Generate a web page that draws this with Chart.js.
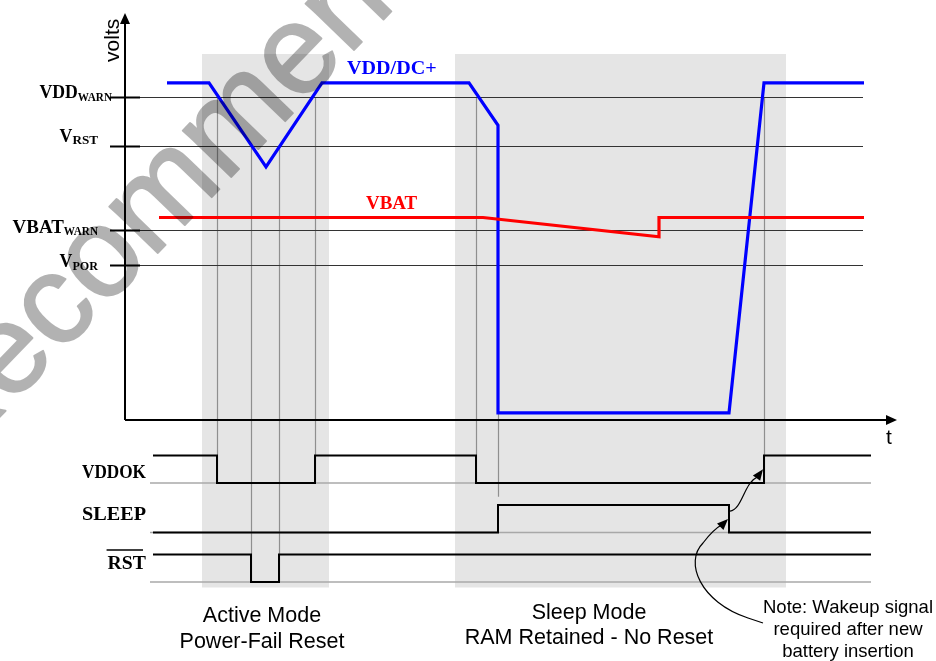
<!DOCTYPE html>
<html><head><meta charset="utf-8">
<script src="https://cdn.jsdelivr.net/npm/chart.js@4.4.1/dist/chart.umd.min.js"></script>
<style>html,body{margin:0;padding:0;background:#fff}</style>
</head><body>
<canvas id="c" width="936" height="661"></canvas>
<script>
// ---- DATA (time in arbitrary units, voltage in volts, logic 0/1) ----
const vddTimes   = [21, 42, 70.5, 98.5, 172, 186.5, 186.5, 302, 319.5, 369.5];
const vddVolts   = [3.33, 3.33, 2.50, 3.33, 3.33, 2.91, 0.07, 0.07, 3.33, 3.33];
const vbatTimes  = [17, 179, 267, 267, 369.5];
const vbatVolts  = [2.00, 2.00, 1.81, 2.00, 2.00];
const thresholdMain = ['VDD', 'V', 'VBAT', 'V'];
const thresholdSub  = ['WARN', 'RST', 'WARN', 'POR'];
const thresholdVolts = [3.19, 2.71, 1.88, 1.53];
const signalNames  = ['VDDOK', 'SLEEP', 'RST'];
const vddokTimes  = [14, 46, 95, 175.5, 319.5, 373];
const vddokLevels = [1, 0, 1, 0, 1, 1];
const sleepTimes  = [14, 186.5, 302, 373];
const sleepLevels = [0, 1, 0, 0];
const rstTimes    = [14, 63, 77, 373];
const rstLevels   = [1, 0, 1, 1];
const modeStart = [38.5, 165];
const modeEnd   = [102, 330.5];
const modeCaption1 = ['Active Mode', 'Sleep Mode'];
const modeCaption2 = ['Power-Fail Reset', 'RAM Retained - No Reset'];
const guideTimes = [46, 63, 77, 95, 175.5, 186.5, 319.5];
const guideFromVolts = [3.19, 2.71, 2.71, 3.19, 3.19, 0.07, 3.19];
const guideToSignal = [0, 2, 2, 0, 0, 1, 0];
const noteLines = ['Note: Wakeup signal', 'required after new', 'battery insertion'];

// logic rows: offset of each signal's low level on the digital axis
const rowOffset = [0, -1.8, -3.6];
const pts = (xs, ys, off) => xs.map((x, i) => ({x, y: ys[i] + (off || 0)}));

const SANS = '"Liberation Sans", Arial, sans-serif';

// Courier-like bold serif text squeezed to a 0.61em monospaced width
function monoText(ctx, text, x, y, size, align) {
  ctx.save();
  ctx.font = 'bold ' + (size * 0.85) + 'px "Liberation Serif", serif';
  ctx.textAlign = 'left';
  const w = ctx.measureText(text).width;
  const W = 0.61 * size * text.length;
  let left = x;
  if (align === 'right') left = x - W;
  else if (align === 'center') left = x - W / 2;
  ctx.translate(left, y);
  ctx.scale(W / w, 1);
  ctx.fillText(text, 0, 0);
  ctx.restore();
  return W;
}

const plugin = {
  id: 'timing',
  beforeDatasetsDraw(chart) {
    const ctx = chart.ctx, X = chart.scales.x, Y = chart.scales.y, D = chart.scales.yd;
    const x = t => X.getPixelForValue(t), y = v => Y.getPixelForValue(v), d = v => D.getPixelForValue(v);
    ctx.save();
    ctx.fillStyle = '#e5e5e5';
    const top = y(3.615), bot = d(rowOffset[2] - 0.2);
    for (let i = 0; i < modeStart.length; i++) {
      ctx.fillRect(x(modeStart[i]), top, x(modeEnd[i]) - x(modeStart[i]), bot - top);
    }
    ctx.strokeStyle = '#8f8f8f'; ctx.lineWidth = 1.2;
    guideTimes.forEach((t, i) => {
      const s = guideToSignal[i];
      const endV = s === 1 ? rowOffset[1] + 1.3 : rowOffset[s];
      const gx = Math.round(x(t)) + 0.5;
      ctx.beginPath(); ctx.moveTo(gx, y(guideFromVolts[i])); ctx.lineTo(gx, d(endV)); ctx.stroke();
    });
    ctx.strokeStyle = '#a8a8a8'; ctx.lineWidth = 1.5;
    rowOffset.forEach(r => {
      ctx.beginPath(); ctx.moveTo(x(12.5), d(r)); ctx.lineTo(x(373), d(r)); ctx.stroke();
    });
    const ax = x(0);
    thresholdVolts.forEach(v => {
      const ly = Math.round(y(v)) + 0.5;
      ctx.strokeStyle = '#333'; ctx.lineWidth = 1.2;
      ctx.beginPath(); ctx.moveTo(ax, ly); ctx.lineTo(x(369), ly); ctx.stroke();
      ctx.strokeStyle = '#000'; ctx.lineWidth = 2;
      ctx.beginPath(); ctx.moveTo(ax - 15, ly); ctx.lineTo(ax + 15, ly); ctx.stroke();
    });
    ctx.restore();
  },
  afterDatasetsDraw(chart) {
    const ctx = chart.ctx, X = chart.scales.x, Y = chart.scales.y, D = chart.scales.yd;
    const x = t => X.getPixelForValue(t), y = v => Y.getPixelForValue(v), d = v => D.getPixelForValue(v);
    ctx.save();
    const ox = x(0), oy = y(0);
    ctx.strokeStyle = '#000'; ctx.fillStyle = '#000'; ctx.lineWidth = 2;
    ctx.beginPath(); ctx.moveTo(ox, oy); ctx.lineTo(ox, y(3.95)); ctx.stroke();
    ctx.beginPath(); ctx.moveTo(ox, oy); ctx.lineTo(x(381), oy); ctx.stroke();
    ctx.beginPath(); ctx.moveTo(ox, y(4.02)); ctx.lineTo(ox - 5, y(4.02) + 11); ctx.lineTo(ox + 5, y(4.02) + 11); ctx.closePath(); ctx.fill();
    const ex = x(386);
    ctx.beginPath(); ctx.moveTo(ex, oy); ctx.lineTo(ex - 11, oy - 5); ctx.lineTo(ex - 11, oy + 5); ctx.closePath(); ctx.fill();
    ctx.font = '21px ' + SANS; ctx.textAlign = 'center'; ctx.textBaseline = 'middle';
    ctx.fillText('t', ex - 8, oy + 18);
    ctx.save(); ctx.translate(ox - 12, y(3.75)); ctx.rotate(-Math.PI / 2); ctx.fillText('volts', 0, 0); ctx.restore();
    // threshold labels
    ctx.textBaseline = 'alphabetic';
    const rightEdge = [ox - 13, ox - 27, ox - 27, ox - 27];
    const dy = [1, -4, 3, 2];
    thresholdVolts.forEach((v, i) => {
      const sw = 0.61 * 14 * thresholdSub[i].length;
      const mw = 0.61 * 21 * thresholdMain[i].length;
      const left = rightEdge[i] - sw - mw;
      const base = y(v) + dy[i];
      monoText(ctx, thresholdMain[i], left, base, 21, 'left');
      monoText(ctx, thresholdSub[i], left + mw, base + 2.5, 14, 'left');
    });
    // series labels
    ctx.fillStyle = '#0000ff'; monoText(ctx, 'VDD/DC+', x(111), y(3.33) - 9, 21, 'left');
    ctx.fillStyle = '#ff0000'; monoText(ctx, 'VBAT', x(120.5), y(2.0) - 9, 21, 'left');
    // signal labels
    ctx.fillStyle = '#000';
    const lblOff = [0.4, 0.67, 0.69];
    signalNames.forEach((n, i) => {
      const ly = d(rowOffset[i] + lblOff[i]) + 6;
      const w = monoText(ctx, n, x(10.5), ly, 21, 'right');
      if (i === 2) {
        ctx.lineWidth = 1.5;
        ctx.beginPath(); ctx.moveTo(x(10.5) - w - 1, ly - 19); ctx.lineTo(x(10.5) - 3, ly - 19); ctx.stroke();
      }
    });
    // captions
    ctx.font = '21.5px ' + SANS; ctx.textAlign = 'center'; ctx.textBaseline = 'middle';
    const capX = [x(68.5), x(232)];
    for (let i = 0; i < 2; i++) {
      ctx.fillText(modeCaption1[i], capX[i], 616 - (i ? 3 : 0));
      ctx.fillText(modeCaption2[i], capX[i], 642 - (i ? 4 : 0));
    }
    ctx.font = '18.5px ' + SANS;
    noteLines.forEach((l, i) => ctx.fillText(l, x(361.5), 608 + i * 22));
    // curved arrows
    const arrowHead = (tx, ty, fx, fy) => {
      const a = Math.atan2(ty - fy, tx - fx), L = 11, W = 4.5;
      ctx.beginPath(); ctx.moveTo(tx, ty);
      ctx.lineTo(tx - L * Math.cos(a) + W * Math.sin(a), ty - L * Math.sin(a) - W * Math.cos(a));
      ctx.lineTo(tx - L * Math.cos(a) - W * Math.sin(a), ty - L * Math.sin(a) + W * Math.cos(a));
      ctx.closePath(); ctx.fill();
    };
    ctx.lineWidth = 1.2; ctx.strokeStyle = '#000';
    const a1x = x(sleepTimes[2]) + 1, a1y = d(rowOffset[1] + 0.78);
    const t1x = x(vddokTimes[4]) - 1, t1y = d(rowOffset[0] + 0.5);
    ctx.beginPath(); ctx.moveTo(a1x, a1y);
    ctx.bezierCurveTo(a1x + 12, a1y - 1, a1x + 14, a1y - 28, t1x - 6, t1y + 8); ctx.stroke();
    arrowHead(t1x, t1y, t1x - 8, t1y + 11);
    const t2x = x(sleepTimes[2]) - 1, t2y = d(rowOffset[1] + 0.49);
    ctx.beginPath(); ctx.moveTo(763, 623); ctx.lineTo(748, 618);
    ctx.bezierCurveTo(700, 602, 684, 562, 703, 543);
    ctx.bezierCurveTo(709, 535, 714, 529, t2x - 5, t2y + 5); ctx.stroke();
    arrowHead(t2x, t2y, t2x - 8, t2y + 8);
    ctx.restore();
  },
  afterDraw(chart) {
    const ctx = chart.ctx;
    const off = document.createElement('canvas'); off.width = 936; off.height = 661;
    const o = off.getContext('2d');
    o.font = '127px ' + SANS;
    o.translate(57, 310); o.rotate(-46 * Math.PI / 180);
    const pre = o.measureText('Not Re').width, cw = o.measureText('c').width;
    const tx = -pre - cw / 2, ty = 0.26 * 127;
    o.fillStyle = '#000'; o.strokeStyle = '#000'; o.lineWidth = 2; o.lineJoin = 'round';
    o.fillText('Not Recommended for New Designs', tx, ty);
    o.strokeText('Not Recommended for New Designs', tx, ty);
    ctx.save(); ctx.globalAlpha = 0.3; ctx.drawImage(off, 0, 0); ctx.restore();
  }
};

const digital = (xs, ys, r) => ({
  data: pts(xs, ys, rowOffset[r]), yAxisID: 'yd', borderColor: '#000', borderWidth: 2,
  stepped: true, pointRadius: 0, fill: false, borderJoinStyle: 'miter'
});

new Chart(document.getElementById('c'), {
  type: 'line',
  data: {
    datasets: [
      { label: 'VBAT', data: pts(vbatTimes, vbatVolts), yAxisID: 'y', borderColor: '#ff0000', borderWidth: 3.2, pointRadius: 0, tension: 0, borderJoinStyle: 'miter' },
      { label: 'VDD/DC+', data: pts(vddTimes, vddVolts), yAxisID: 'y', borderColor: '#0000ff', borderWidth: 3.2, pointRadius: 0, tension: 0, borderJoinStyle: 'miter' },
      Object.assign({ label: 'VDDOK' }, digital(vddokTimes, vddokLevels, 0)),
      Object.assign({ label: 'SLEEP' }, digital(sleepTimes, sleepLevels, 1)),
      Object.assign({ label: 'RST' }, digital(rstTimes, rstLevels, 2))
    ]
  },
  options: {
    responsive: false, animation: false,
    layout: { padding: { left: 125, right: 39, top: 15, bottom: 61 } },
    plugins: { legend: { display: false }, tooltip: { enabled: false } },
    scales: {
      x: { type: 'linear', min: 0, max: 386, display: false },
      y: { type: 'linear', min: -180 / 101.25, max: 4, display: false },
      yd: { type: 'linear', min: -117 / 27.5, max: 468 / 27.5, display: false }
    }
  },
  plugins: [plugin]
});
</script>
</body></html>
